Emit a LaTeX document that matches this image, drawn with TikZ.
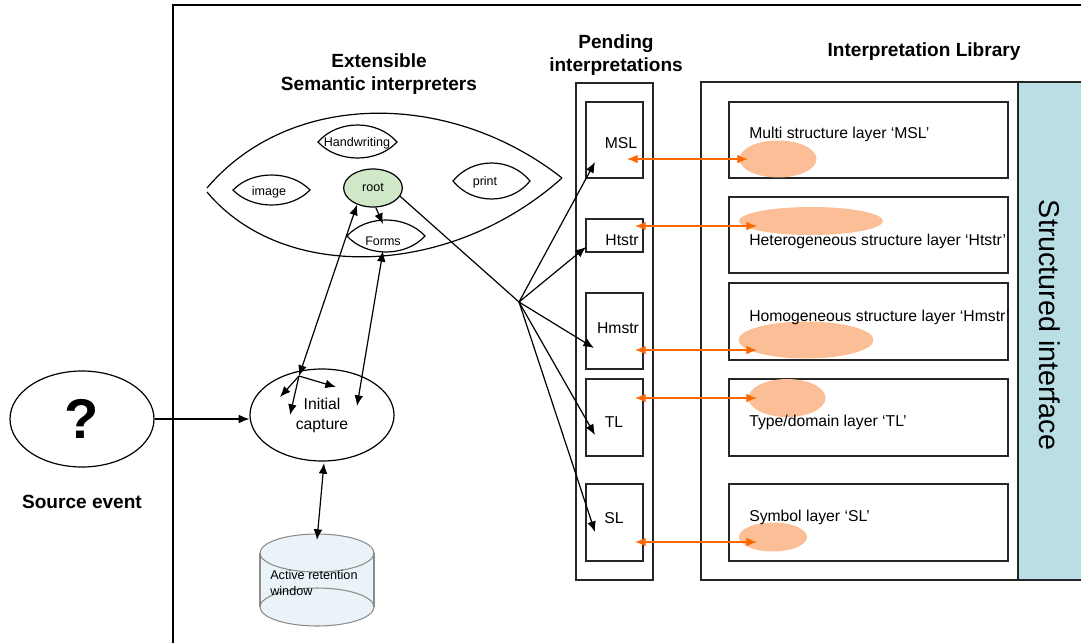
\documentclass[tikz,border=0pt]{standalone}
\usepackage{fontspec}
\setmainfont{Liberation Sans}
\usetikzlibrary{arrows.meta,shapes.geometric}
\definecolor{blob}{RGB}{251,190,150}
\definecolor{orng}{RGB}{255,102,0}
\definecolor{cyanp}{RGB}{185,223,228}
\definecolor{rootg}{RGB}{208,232,200}
\definecolor{cylf}{RGB}{234,244,248}
\definecolor{cylg}{RGB}{140,140,140}
\newcommand\lensshape[5]{\draw[line] (#1,#3) .. controls ({#1+(#2-#1)/4},{#3-4/3*#4}) and ({#2-(#2-#1)/4},{#3-4/3*#4}) .. (#2,#3) .. controls ({#2-(#2-#1)/4},{#3+4/3*#5}) and ({#1+(#2-#1)/4},{#3+4/3*#5}) .. cycle;}
\tikzset{
  line/.style={draw=black, line width=0.9pt},
  arr/.style={line, -{Latex[length=8pt,width=6.5pt]}},
  darr/.style={line, {Latex[length=8pt,width=6.5pt]}-{Latex[length=8pt,width=6.5pt]}},
  oarr/.style={draw=orng, line width=1pt, {Latex[length=8pt,width=6.5pt]}-{Latex[length=8pt,width=6.5pt]}},
  title/.style={font=\fontsize{14.3}{17.5}\selectfont\bfseries, align=center, inner sep=0pt},
  lbl/.style={font=\fontsize{11.8}{15}\selectfont, inner sep=0pt, align=center},
  small/.style={font=\fontsize{9.4}{12}\selectfont, inner sep=0pt, align=center},
  blobst/.style={ellipse, fill=blob, draw=none, inner sep=0pt},
  boxl/.style={draw=black!85, line width=1.1pt}
}
\begin{document}
\begin{tikzpicture}[x=0.75pt,y=-0.75pt]
\useasboundingbox (0,0) rectangle (1081,643);
% frame
\draw[line width=1.1pt] (173,643) -- (173,5) -- (1081,5);
% titles
\node[title] (t1) at (379,74) {Extensible\\Semantic interpreters};
\node[title] (t2) at (616,55) {Pending\\interpretations};
\node[title] (t3) at (924,52) {Interpretation Library};
\node[title] (t4) at (82,502) {Source event};

% big lens
\draw[line] (207,188) .. controls (290,90) and (450,90) .. (562,178);
\draw[line] (207,192) .. controls (283,283) and (450,278) .. (562,178);
% small lenses
\lensshape{318}{397}{142}{17}{16}
\node[small] (hw) at (357,143) {Handwriting};
\lensshape{233}{310}{190}{15}{15}
\node[small] (img) at (269,192) {image};
\lensshape{453}{530}{181}{18}{18}
\node[small] (prt) at (485,182) {print};
\lensshape{347}{425}{236}{16}{16}
\node[small] (frm) at (383,241) {Forms};
\node[ellipse, draw=black, line width=0.9pt, fill=rootg, minimum width=44pt, minimum height=28.5pt, inner sep=0pt, font=\fontsize{9.4}{12}\selectfont] (root) at (373,188) {root};

% source and initial capture
\node[ellipse, draw=black, line width=0.9pt, minimum width=108pt, minimum height=72pt, inner sep=0pt, font=\fontsize{42}{44}\selectfont\bfseries] (src) at (82,419) {?};
\node[ellipse, draw=black, line width=0.9pt, minimum width=108pt, minimum height=69pt, inner sep=0pt, font=\fontsize{11.8}{15}\selectfont, align=center] (ic) at (322,415) {Initial\\capture};
\draw[arr] (src.east) -- (src.east -| ic.west);

% cylinder
\fill[cylf] (260,553) rectangle (374,607);
\filldraw[fill=cylf, draw=cylg, line width=0.8pt] (317,607) ellipse [x radius=42.75pt, y radius=14.25pt];
\filldraw[fill=cylf, draw=cylg, line width=0.8pt] (317,553) ellipse [x radius=42.75pt, y radius=14.25pt];
\draw[cylg, line width=0.8pt] (260,553) -- (260,607) (374,553) -- (374,607);
\node[small, anchor=west, align=left, font=\fontsize{9.5}{12}\selectfont] (cyl) at (270,583) {Active retention\\window};
\coordinate (cyltop) at (317,540);
\coordinate (icbot) at (324,463);
\draw[darr] (icbot) -- (cyltop);

% root / forms / capture arrows
\coordinate (frmtop) at (383,224);
\coordinate (frmbot) at (383,251);
\coordinate (icr) at (357,406);
\coordinate (J) at (299,376);
\coordinate (a1) at (280,397);
\coordinate (a2) at (290,415);
\coordinate (a3) at (336,387);
\draw[arr] (root.-82) -- (frmtop);
\draw[darr] (frmbot) -- (icr);
\draw[darr] (root.226) -- (J);
\draw[arr] (J) -- (a1);
\draw[arr] (J) -- (a2);
\draw[arr] (J) -- (a3);

% fan
\coordinate (F) at (519,302);
\draw[line] (root.-17) -- (F);

% pending column
\draw[boxl] (576,83) rectangle (653,580);
\draw[boxl] (586,102) rectangle (643,178);
\draw[boxl] (586,219) rectangle (643,252);
\draw[boxl] (586,293) rectangle (643,369);
\draw[boxl] (586,379) rectangle (643,456);
\draw[boxl] (586,484) rectangle (643,561);
\node[lbl] (pMSL) at (621,143) {MSL};
\node[lbl] (pHt) at (622,240) {Htstr};
\node[lbl] (pHm) at (618,328) {Hmstr};
\node[lbl] (pTL) at (614,422) {TL};
\node[lbl] (pSL) at (614,518) {SL};
\coordinate (fMSL) at (595,162);
\coordinate (fHt) at (586,247);
\coordinate (fHm) at (594,348);
\coordinate (fTL) at (595,435);
\coordinate (fSL) at (595,532);
\draw[arr] (F) -- (fMSL);
\draw[arr] (F) -- (fHt);
\draw[arr] (F) -- (fHm);
\draw[arr] (F) -- (fTL);
\draw[arr] (F) -- (fSL);

% library
\fill[cyanp] (1018,82) rectangle (1081,580);
\draw[boxl] (1081,82) -- (701,82) -- (701,580) -- (1081,580);
\draw[boxl] (1018,82) -- (1018,580);
\node[rotate=-90, font=\fontsize{21.5}{24}\selectfont, inner sep=0pt] (si) at (1050,325) {Structured interface};
\draw[boxl] (729,102) rectangle (1008,178);
\draw[boxl] (729,197) rectangle (1008,273);
\draw[boxl] (729,283) rectangle (1008,360);
\draw[boxl] (729,379) rectangle (1008,456);
\draw[boxl] (729,484) rectangle (1008,561);
\node[blobst, minimum width=57.75pt, minimum height=27.75pt] (bMSL) at (778,159) {};
\node[blobst, minimum width=108pt, minimum height=21pt] (bHt) at (811,221) {};
\node[blobst, minimum width=101.25pt, minimum height=27.75pt] (bHm) at (806,340) {};
\node[blobst, minimum width=57.75pt, minimum height=28.5pt] (bTL) at (787,398) {};
\node[blobst, minimum width=51pt, minimum height=21.75pt] (bSL) at (773,537) {};
\node[lbl, anchor=west] (lMSL) at (749,134) {Multi structure layer ‘MSL’};
\node[lbl, anchor=west] (lHt) at (749,241) {Heterogeneous structure layer ‘Htstr’};
\node[lbl, anchor=west] (lHm) at (749,317) {Homogeneous structure layer ‘Hmstr’};
\node[lbl, anchor=west] (lTL) at (749,422) {Type/domain layer ‘TL’};
\node[lbl, anchor=west] (lSL) at (749,517) {Symbol layer ‘SL’};

% orange arrows
\coordinate (oMSLa) at (627,159); \coordinate (oMSLb) at (748,159);
\coordinate (oHta) at (635,226); \coordinate (oHtb) at (757,226);
\coordinate (oHma) at (635,350); \coordinate (oHmb) at (757,350);
\coordinate (oTLa) at (635,398); \coordinate (oTLb) at (757,398);
\coordinate (oSLa) at (635,542); \coordinate (oSLb) at (757,542);
\draw[oarr] (oMSLa) -- (oMSLb);
\draw[oarr] (oHta) -- (oHtb);
\draw[oarr] (oHma) -- (oHmb);
\draw[oarr] (oTLa) -- (oTLb);
\draw[oarr] (oSLa) -- (oSLb);
\end{tikzpicture}
\end{document}
